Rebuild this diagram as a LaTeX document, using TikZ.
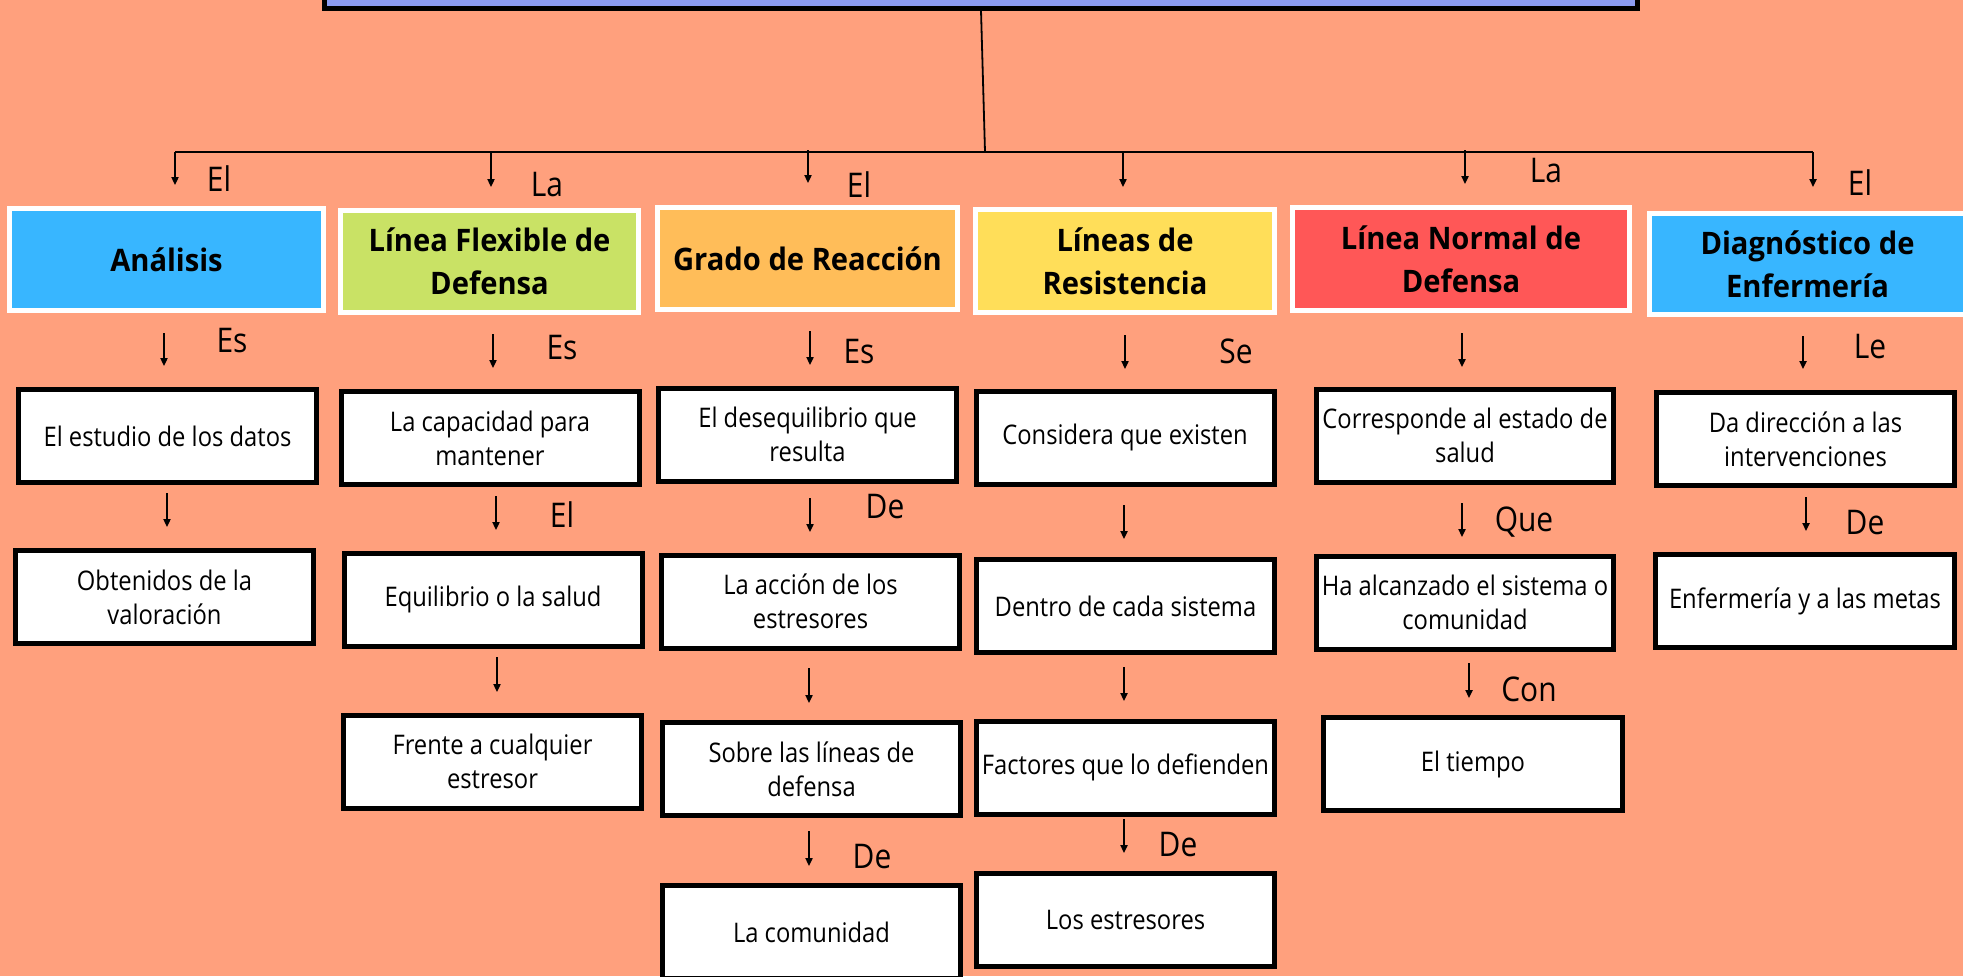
\documentclass[tikz,border=0pt]{standalone}
\usepackage{fontspec}
\setmainfont{Open Sans}[FakeStretch=0.88]
\newfontfamily\headfont{Open Sans}[FakeStretch=0.94]
\usetikzlibrary{arrows.meta}
\definecolor{bg}{HTML}{FFA07D}
\definecolor{topblue}{HTML}{8C9CF2}
\definecolor{cblue}{HTML}{38B6FF}
\definecolor{clime}{HTML}{C9E265}
\definecolor{corange}{HTML}{FFBD59}
\definecolor{cyellow}{HTML}{FFDE59}
\definecolor{cred}{HTML}{FF5757}
\tikzset{
  hbox/.style={draw=white, line width=2.5pt, align=center, inner sep=0pt,
    font=\headfont\bfseries\fontsize{15.5}{21.3}\selectfont, minimum height=51pt},
  cbox/.style={draw=black, fill=white, line width=2.5pt, align=center, inner sep=0pt,
    font=\fontsize{13.5}{17}\selectfont, minimum width=149pt, minimum height=46.5pt},
  lbl/.style={inner sep=0pt, font=\fontsize{17}{19}\selectfont},
  arr/.style={line width=0.8pt, -{Triangle[length=4pt,width=3.6pt]}},
  link/.style={line width=0.9pt}
}
\begin{document}
\begin{tikzpicture}[x=0.5pt,y=-0.5pt]
\fill[bg] (0,0) rectangle (1963,976);
\useasboundingbox (0,0) rectangle (1963,976);

% top box
\node[draw=black, fill=topblue, line width=2.5pt, minimum width=656.5pt, minimum height=28pt, inner sep=0pt] (top) at (981,-20) {};
\coordinate (hub) at (985,152);
\coordinate (barL) at (175,152);
\coordinate (barR) at (1813,152);
\draw[link] (top.south) -- (hub);
\draw[link] (barL) -- (barR);

% header boxes
\node[hbox, fill=cblue, minimum width=157pt] (h1) at (166.5,259.5) {Análisis};
\node[hbox, fill=clime, minimum width=149pt] (h2) at (489.5,261.5) {Línea Flexible de\\Defensa};
\node[hbox, fill=corange, minimum width=150pt] (h3) at (807.5,258.5) {Grado de Reacción};
\node[hbox, fill=cyellow, minimum width=149.5pt, minimum height=51.5pt] (h4) at (1125,261) {Líneas de\\Resistencia};
\node[hbox, fill=cred, minimum width=168.5pt, minimum height=51.5pt] (h5) at (1461,259) {Línea Normal de\\Defensa};
\node[hbox, fill=cblue, minimum width=158pt, minimum height=50.5pt] (h6) at (1807.5,264) {Diagnóstico de\\Enfermería};

% top arrows
\coordinate (t1s) at (175,152);  \coordinate (t1e) at (175,185);
\coordinate (t2s) at (491,152);  \coordinate (t2e) at (491,187);
\coordinate (t3s) at (808,150);  \coordinate (t3e) at (808,183);
\coordinate (t4s) at (1123,152); \coordinate (t4e) at (1123,187);
\coordinate (t5s) at (1465,150); \coordinate (t5e) at (1465,184);
\coordinate (t6s) at (1813,152); \coordinate (t6e) at (1813,187);
\foreach \i in {1,...,6}{\draw[arr] (t\i s) -- (t\i e);}
\node[lbl] (tl1) at (219,179) {El};
\node[lbl] (tl2) at (547,185) {La};
\node[lbl] (tl3) at (859,185) {El};
\node[lbl] (tl5) at (1546,171) {La};
\node[lbl] (tl6) at (1860,183) {El};

% column 1
\node[cbox] (c1a) at (167.5,436) {El estudio de los datos};
\node[cbox] (c1b) at (164.5,597) {Obtenidos de la\\valoración};
\coordinate (a1as) at (164,333); \coordinate (a1ae) at (164,366);
\coordinate (a1bs) at (167,493); \coordinate (a1be) at (167,527);
\draw[arr] (a1as) -- (a1ae);
\draw[arr] (a1bs) -- (a1be);
\node[lbl] (l1a) at (232,341) {Es};

% column 2
\node[cbox] (c2a) at (490,438) {La capacidad para\\mantener};
\node[cbox] (c2b) at (493,599.5) {Equilibrio o la salud};
\node[cbox] (c2c) at (492.5,761.5) {Frente a cualquier\\estresor};
\coordinate (a2as) at (493,334); \coordinate (a2ae) at (493,368);
\coordinate (a2bs) at (496,496); \coordinate (a2be) at (496,530);
\coordinate (a2cs) at (497,657); \coordinate (a2ce) at (497,692);
\draw[arr] (a2as) -- (a2ae);
\draw[arr] (a2bs) -- (a2be);
\draw[arr] (a2cs) -- (a2ce);
\node[lbl] (l2a) at (562,348) {Es};
\node[lbl] (l2b) at (562,515) {El};

% column 3
\node[cbox] (c3a) at (807.5,434.5) {El desequilibrio que\\resulta};
\node[cbox] (c3b) at (810.5,601.5) {La acción de los\\estresores};
\node[cbox] (c3c) at (811.5,769) {Sobre las líneas de\\defensa};
\node[cbox] (c3d) at (811.5,932) {La comunidad};
\coordinate (a3as) at (810,331); \coordinate (a3ae) at (810,365);
\coordinate (a3bs) at (810,498); \coordinate (a3be) at (810,532);
\coordinate (a3cs) at (809,668); \coordinate (a3ce) at (809,703);
\coordinate (a3ds) at (809,831); \coordinate (a3de) at (809,866);
\draw[arr] (a3as) -- (a3ae);
\draw[arr] (a3bs) -- (a3be);
\draw[arr] (a3cs) -- (a3ce);
\draw[arr] (a3ds) -- (a3de);
\node[lbl] (l3a) at (859,352) {Es};
\node[lbl] (l3b) at (885,507) {De};
\node[lbl] (l3d) at (872,857) {De};

% column 4
\node[cbox] (c4a) at (1125,437.5) {Considera que existen};
\node[cbox] (c4b) at (1125.5,606) {Dentro de cada sistema};
\node[cbox] (c4c) at (1125.5,767.5) {Factores que lo defienden};
\node[cbox] (c4d) at (1125.5,919.5) {Los estresores};
\coordinate (a4as) at (1125,335); \coordinate (a4ae) at (1125,369);
\coordinate (a4bs) at (1124,505); \coordinate (a4be) at (1124,539);
\coordinate (a4cs) at (1124,667); \coordinate (a4ce) at (1124,701);
\coordinate (a4ds) at (1124,819); \coordinate (a4de) at (1124,853);
\draw[arr] (a4as) -- (a4ae);
\draw[arr] (a4bs) -- (a4be);
\draw[arr] (a4cs) -- (a4ce);
\draw[arr] (a4ds) -- (a4de);
\node[lbl] (l4a) at (1236,351) {Se};
\node[lbl] (l4d) at (1178,845) {De};

% column 5
\node[cbox, minimum width=148.5pt] (c5a) at (1465,435.5) {Corresponde al estado de\\salud};
\node[cbox, minimum width=148.5pt] (c5b) at (1465,602.5) {Ha alcanzado el sistema o\\comunidad};
\node[cbox, minimum width=149.5pt] (c5c) at (1473,764) {El tiempo};
\coordinate (a5as) at (1462,333); \coordinate (a5ae) at (1462,367);
\coordinate (a5bs) at (1462,503); \coordinate (a5be) at (1462,537);
\coordinate (a5cs) at (1469,663); \coordinate (a5ce) at (1469,698);
\draw[arr] (a5as) -- (a5ae);
\draw[arr] (a5bs) -- (a5be);
\draw[arr] (a5cs) -- (a5ce);
\node[lbl] (l5b) at (1524,522) {Que};
\node[lbl] (l5c) at (1529,689) {Con};

% column 6
\node[cbox] (c6a) at (1805.5,439) {Da dirección a las\\intervenciones};
\node[cbox, minimum width=149.5pt] (c6b) at (1805,601) {Enfermería y a las metas};
\coordinate (a6as) at (1803,336); \coordinate (a6ae) at (1803,369);
\coordinate (a6bs) at (1806,497); \coordinate (a6be) at (1806,531);
\draw[arr] (a6as) -- (a6ae);
\draw[arr] (a6bs) -- (a6be);
\node[lbl] (l6a) at (1870,347) {Le};
\node[lbl] (l6b) at (1865,523) {De};
\end{tikzpicture}
\end{document}
